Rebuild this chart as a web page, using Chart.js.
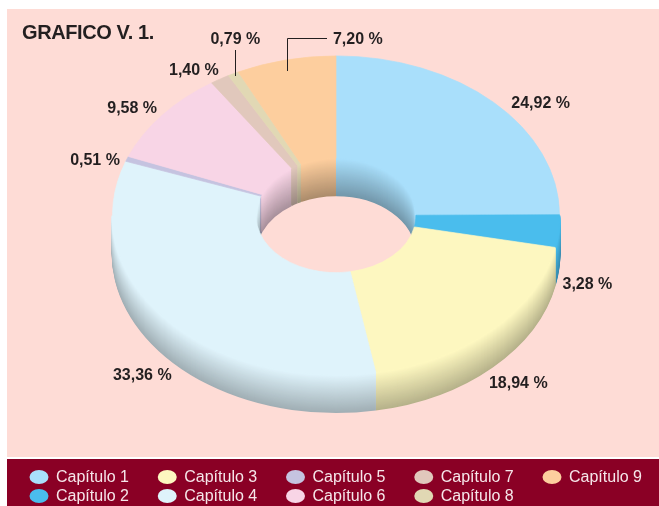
<!DOCTYPE html>
<html>
<head>
<meta charset="utf-8">
<style>html,body{margin:0;padding:0;background:#fff}canvas{display:block}</style>
<script src="https://cdn.jsdelivr.net/npm/chart.js@4"></script>
</head>
<body>
<canvas id="c" width="659" height="506"></canvas>
<script>
const categories = ['Capítulo 1','Capítulo 2','Capítulo 3','Capítulo 4','Capítulo 5','Capítulo 6','Capítulo 7','Capítulo 8','Capítulo 9'];
const values = [24.92,3.28,18.94,33.36,0.51,9.58,1.40,0.79,7.20];
const colors = ['#A9DFFB','#4ABDED','#FDF7C0','#DFF3FB','#C5C3E0','#F8D5E6','#E1C8BC','#E1D8B4','#FDCE9E'];
const title = 'GRAFICO V. 1.';

const labelOffsets = [[47,0],[29,52],[26,53],[-23,56],[-32,1],[-30,-8],[-26,-10],[2,-35],[72,-21]];
const TILT = 0.714, DEPTH = 37;
const INK = '#231f20', PINK = '#FEDCD6', RED = '#8A0025';

function shade(hex, k){
  const n = parseInt(hex.slice(1),16);
  return `rgb(${Math.round((n>>16&255)*k)},${Math.round((n>>8&255)*k)},${Math.round((n&255)*k)})`;
}
function strips(ctx, arc, r, ranges, kEnd, color){
  ranges.forEach(([lo,hi])=>{
    const a = Math.max(arc.startAngle, lo), b = Math.min(arc.endAngle, hi);
    if (b <= a) return;
    for (let d = DEPTH; d >= 0; d--){
      ctx.beginPath();
      ctx.ellipse(arc.x, arc.y + d, r, r*TILT, 0, a, b);
      ctx.strokeStyle = shade(color, 1 - (1-kEnd)*d/DEPTH);
      ctx.lineWidth = 2;
      ctx.lineCap = 'butt';
      ctx.stroke();
    }
  });
}

const scene = {
  id: 'scene',
  beforeDraw(chart){
    const ctx = chart.ctx;
    ctx.save();
    ctx.fillStyle = '#fff'; ctx.fillRect(0,0,659,506);
    ctx.fillStyle = PINK; ctx.fillRect(7,9,652,448);
    ctx.fillStyle = RED; ctx.fillRect(7,459,652,47);
    ctx.restore();
  },
  beforeDatasetsDraw(chart){
    const ctx = chart.ctx, arcs = chart.getDatasetMeta(0).data;
    ctx.save();
    arcs.forEach((arc,i)=> strips(ctx, arc, arc.innerRadius, [[-Math.PI/2,0],[Math.PI,1.5*Math.PI]], 0.68, colors[i]));
    arcs.forEach((arc,i)=> strips(ctx, arc, arc.outerRadius, [[0,Math.PI]], 0.72, colors[i]));
    ctx.restore();
    const a0 = arcs[0];
    ctx.save();
    ctx.translate(a0.x, a0.y);
    ctx.scale(1, TILT);
    ctx.translate(-a0.x, -a0.y);
  },
  afterDatasetsDraw(chart){
    const ctx = chart.ctx, arcs = chart.getDatasetMeta(0).data;
    ctx.restore();
    ctx.save();
    ctx.fillStyle = INK;
    ctx.textBaseline = 'middle';
    ctx.font = 'bold 20px "Liberation Sans"';
    ctx.textAlign = 'left';
    ctx.letterSpacing = '-0.4px';
    ctx.fillText(title, 22, 33);
    ctx.letterSpacing = '0px';
    ctx.font = 'bold 16px "Liberation Sans"';
    ctx.textAlign = 'center';
    const anchors = arcs.map(arc=>{
      const m = (arc.startAngle + arc.endAngle)/2;
      return [arc.x + arc.outerRadius*Math.cos(m), arc.y + arc.outerRadius*TILT*Math.sin(m)];
    });
    values.forEach((v,i)=>{
      const t = v.toFixed(2).replace('.',',') + ' %';
      ctx.fillText(t, anchors[i][0]+labelOffsets[i][0], anchors[i][1]+labelOffsets[i][1]+1);
    });
    ctx.strokeStyle = INK; ctx.lineWidth = 1;
    const a8 = anchors[7], a9 = anchors[8];
    const x8 = Math.round(a8[0]+2)+0.5, x9 = Math.round(a9[0]+1)+0.5;
    ctx.beginPath();
    ctx.moveTo(x8, 50); ctx.lineTo(x8, Math.round(a8[1]+2));
    ctx.moveTo(x9, Math.round(a9[1]+11)); ctx.lineTo(x9, 38.5); ctx.lineTo(327, 38.5);
    ctx.stroke();
    ctx.font = '16px "Liberation Sans"';
    ctx.textAlign = 'left';
    categories.forEach((c,i)=>{
      const col = Math.floor(i/2), row = i%2;
      const x = 39 + col*128.25, y = row ? 496 : 477;
      ctx.beginPath();
      ctx.ellipse(x, y, 9.5, 7, 0, 0, 2*Math.PI);
      ctx.fillStyle = colors[i];
      ctx.fill();
      ctx.fillStyle = '#F6E6EA';
      ctx.fillText(c, x+17, y+1);
    });
    ctx.restore();
  }
};

new Chart(document.getElementById('c'), {
  type: 'doughnut',
  data: { labels: categories, datasets: [{ data: values, backgroundColor: colors, borderColor: colors, borderWidth: 0.8, clip: false }] },
  options: {
    responsive: false,
    animation: false,
    radius: 223.5,
    cutout: '35.8%',
    layout: { padding: { left: 13, right: 0, top: 0, bottom: 75 } },
    plugins: { legend: { display: false }, tooltip: { enabled: false } }
  },
  plugins: [scene]
});
</script>
</body>
</html>
